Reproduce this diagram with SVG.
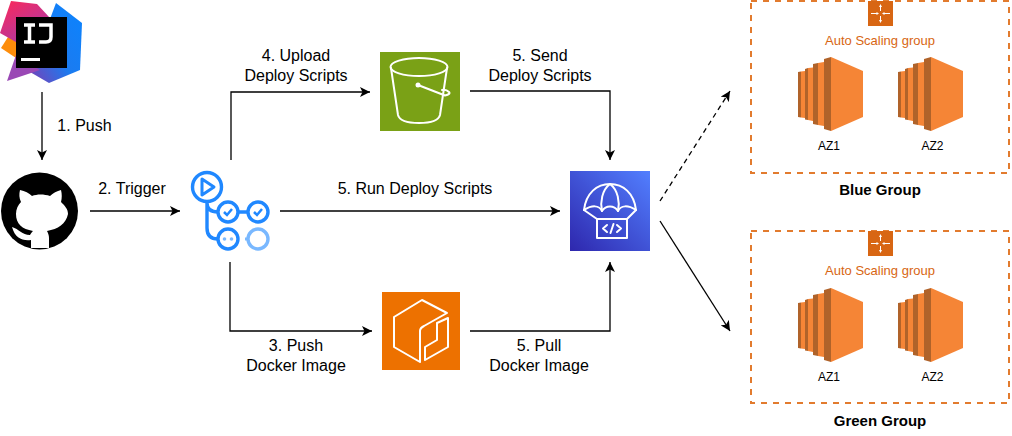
<svg xmlns="http://www.w3.org/2000/svg" width="1012" height="436" viewBox="0 0 1012 436">
<style>
text{font-family:"Liberation Sans",Arial,sans-serif;fill:#000;text-anchor:middle}
.l{font-size:16px}
.s{font-size:12px}
.b{font-size:15px;font-weight:bold}
.asg{font-size:13px;fill:#D86613}
.c{fill:none;stroke:#000;stroke-width:1.3}
.w{fill:none;stroke:#fff;stroke-width:2;stroke-linejoin:round;stroke-linecap:round}
.g{fill:none;stroke:#2088FF;stroke-width:3.4}
.dash{fill:none;stroke:#E27B2E;stroke-width:2;stroke-dasharray:6 6}
</style>
<defs>
<marker id="arrow" markerUnits="userSpaceOnUse" markerWidth="11" markerHeight="10" refX="10" refY="5" orient="auto"><path d="M0 0L10 5L0 10L2.500 5Z" fill="#000"/></marker>
<linearGradient id="cd" x1="0" y1="1" x2="1" y2="0"><stop offset="0" stop-color="#2E27AD"/><stop offset="1" stop-color="#527FFF"/></linearGradient>
<linearGradient id="ijb" x1="0" y1="1" x2="1" y2="0"><stop offset="0" stop-color="#7B3FB5"/><stop offset=".45" stop-color="#1B7BF0"/><stop offset="1" stop-color="#0A84FF"/></linearGradient>
<linearGradient id="ijp" x1="0" y1="0" x2=".6" y2="1"><stop offset="0" stop-color="#FE2857"/><stop offset="1" stop-color="#A33BB0"/></linearGradient>
<g id="ec2">
<path d="M0 15L3 14.500V60.500L0 60Z" fill="#B0632A"/><path d="M3 14.500L7 14V61L3 60.500Z" fill="#F58536"/>
<path d="M7 12L10 11V63L7 62.500Z" fill="#B0632A"/><path d="M10 11L15 10.500V64L10 63Z" fill="#F58536"/>
<path d="M15 7L20 6V68L15 67Z" fill="#B0632A"/><path d="M20 6L26 5V69L20 68Z" fill="#F58536"/>
<path d="M26 2L33 0V74L26 72Z" fill="#B0632A"/><path d="M33 0L65 14V60L33 74Z" fill="#F58536"/>
</g>
<g id="asg">
<rect width="25" height="25" fill="#D86613"/>
<path d="M12.500 4V10M12.500 15V21M3 12.500H10M15 12.500H22" stroke="#fff" stroke-width="1" fill="none"/>
<path d="M12.500 3L11 6H14ZM12.500 22L11 19H14ZM11 12.500L8.500 11V14ZM14 12.500L16.500 11V14Z" fill="#fff"/>
</g>
</defs>

<g id="connectors">
<path class="c" marker-end="url(#arrow)" d="M42 92V160"/>
<path class="c" marker-end="url(#arrow)" d="M90 211H180"/>
<path class="c" marker-end="url(#arrow)" d="M231 160V92H370"/>
<path class="c" marker-end="url(#arrow)" d="M280 211H560"/>
<path class="c" marker-end="url(#arrow)" d="M230 262V331H372"/>
<path class="c" marker-end="url(#arrow)" d="M470 91H610V160"/>
<path class="c" marker-end="url(#arrow)" d="M470 331H610V262"/>
<path class="c" stroke-dasharray="5 4" marker-end="url(#arrow)" d="M660 201L730 91"/>
<path class="c" marker-end="url(#arrow)" d="M660 221L730 331"/>
</g>

<g id="intellij">
<path d="M56 3L82 23L80 70L49 83L30 72Z" fill="url(#ijb)"/>
<path d="M8 37L1 48L16 58L30 40Z" fill="#FD8D0B"/>
<path d="M16 55L7 81L40 70Z" fill="#9A48B5"/>
<path d="M11 1L37 4L50 18L30 50L0 33Z" fill="url(#ijp)"/>
<rect x="16" y="17" width="51" height="51" fill="#000"/>
<path d="M24 25H35M29.500 25V42M24 42H35M39 25H51V37Q51 42 46 42H39" fill="none" stroke="#fff" stroke-width="3.500"/>
<rect x="21" y="58" width="19" height="3" fill="#fff"/>
</g>
<g id="github">
<circle cx="39.500" cy="211" r="38.500" fill="#000"/>
<path d="M31 248V240C22 241 15 238 12 227C19 229 22 235 30 235C31 233 32 232 33 231C22 229 16 224 16 214C16 209 18 205 21 202C19 198 19 194 20 190C25 191 29 193 32 196C37 194 44 194 50 196C53 193 57 191 61 190C62 194 62 198 61 202C65 206 68 209 68 214C66 224 58 229 47 231C48 233 49 235 49 238V248Z" fill="#fff"/>
</g>
<g id="actions">
<circle class="g" cx="207" cy="187" r="14.500"/>
<path d="M202 179L214 187L202 195Z" fill="none" stroke="#2088FF" stroke-width="3" stroke-linejoin="round"/>
<path class="g" d="M207 202V228Q207 239 218 239M207 203Q207 212 218 212M238 212H248"/>
<circle class="g" cx="228" cy="212" r="10"/>
<circle class="g" cx="258" cy="212" r="10"/>
<circle class="g" cx="228" cy="239" r="10"/>
<circle cx="224.500" cy="239" r="1.800" fill="#79B8FF"/><circle cx="231.500" cy="239" r="1.800" fill="#79B8FF"/>
<path d="M224 212L227 215L232 209M254 212L257 215L262 209" fill="none" stroke="#2088FF" stroke-width="2.500"/>
<circle cx="258" cy="239" r="10" fill="none" stroke="#79B8FF" stroke-width="3.400"/>
<path d="M245 239H248" stroke="#79B8FF" stroke-width="3"/>
</g>
<g id="s3">
<rect x="380" y="52" width="80" height="79" fill="#7AA116"/>
<ellipse class="w" cx="419" cy="67" rx="28.500" ry="9"/>
<path class="w" d="M391 68L398 115Q400 123 419 123Q438 123 440 115L447 68"/>
<path class="w" d="M418 85L445 95.500Q451 94 449 92Q446 89 442 90"/>
<circle cx="418" cy="85" r="2.500" fill="#fff"/>
</g>
<g id="ecr">
<rect x="382" y="292" width="78" height="78" fill="#ED7100"/>
<path class="w" d="M447 313L422 300L394 317V347L420 362V331Q420 328 424 326Z"/>
<path class="w" d="M425 360V347L437 340V323L448 318V347Z"/>
</g>
<g id="codedeploy">
<rect x="570" y="171" width="80" height="80" fill="url(#cd)"/>
<path class="w" d="M584 210C586 193 597 184 610 184C623 184 634 193 636 210C628 205 621 205 618 211C614 205 606 205 602 211C599 205 592 205 584 210Z"/>
<path class="w" d="M610 184C602 190 600 202 602 211M610 184C618 190 620 202 618 211M584 210L597 219M636 210L627 219"/>
<rect class="w" x="597" y="219" width="30" height="19"/>
<path class="w" d="M607 225L603 228.500L607 232M617 225L621 228.500L617 232M613.500 224L610.500 233"/>
</g>
<g id="blue-group">
<rect class="dash" x="751" y="1" width="258" height="172"/>
<use href="#asg" x="868" y="1"/>
<text class="asg" x="880" y="45">Auto Scaling group</text>
<use href="#ec2" x="798" y="57"/>
<use href="#ec2" x="898" y="57"/>
<text class="s" x="829" y="150">AZ1</text>
<text class="s" x="932.500" y="150">AZ2</text>
<text class="b" x="880" y="195">Blue Group</text>
</g>
<g id="green-group">
<rect class="dash" x="751" y="231" width="258" height="172"/>
<use href="#asg" x="868" y="231"/>
<text class="asg" x="880" y="275">Auto Scaling group</text>
<use href="#ec2" x="798" y="288"/>
<use href="#ec2" x="898" y="288"/>
<text class="s" x="829" y="381">AZ1</text>
<text class="s" x="932.500" y="381">AZ2</text>
<text class="b" x="880" y="426">Green Group</text>
</g>
<g id="labels">
<text class="l" x="84.500" y="131">1. Push</text>
<text class="l" x="132" y="194">2. Trigger</text>
<text class="l" x="296" y="61">4. Upload</text>
<text class="l" x="296" y="81">Deploy Scripts</text>
<text class="l" x="540" y="61">5. Send</text>
<text class="l" x="540" y="81">Deploy Scripts</text>
<text class="l" x="415" y="194">5. Run Deploy Scripts</text>
<text class="l" x="296" y="351">3. Push</text>
<text class="l" x="296" y="371">Docker Image</text>
<text class="l" x="539" y="351">5. Pull</text>
<text class="l" x="539" y="371">Docker Image</text>
</g>
</svg>
